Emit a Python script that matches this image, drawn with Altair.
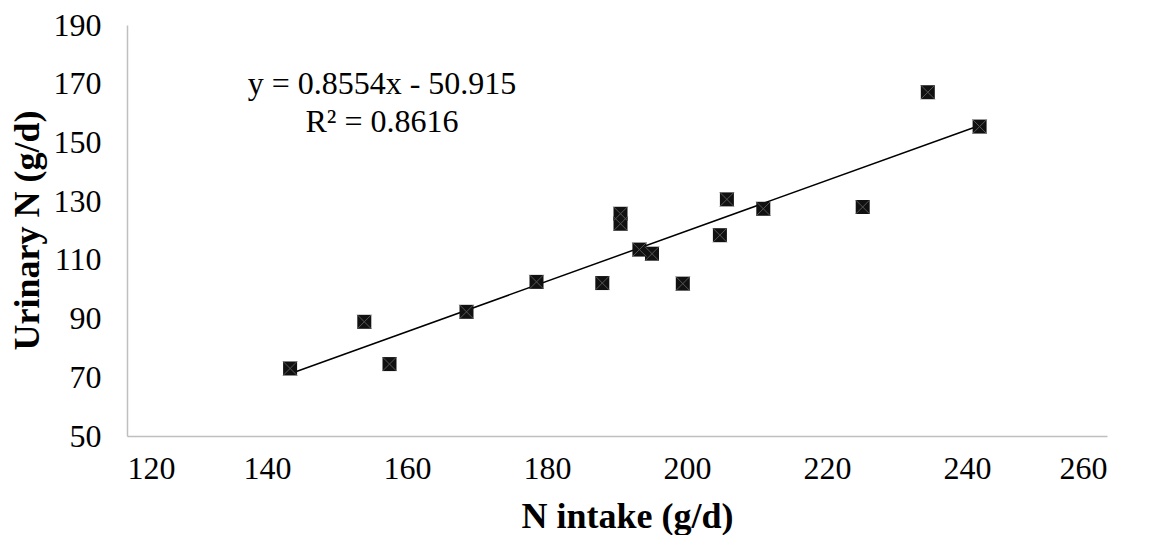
import altair as alt
import pandas as pd

# Data
n_intake = [143.3, 153.9, 157.5, 168.5, 178.5, 187.9, 190.5, 190.5, 193.2,
            195.0, 199.4, 204.7, 205.7, 210.9, 225.1, 234.4, 241.8]
urinary_n = [73.0, 88.9, 74.5, 92.3, 102.5, 102.1, 125.7, 122.3, 113.5,
             112.1, 101.9, 118.4, 130.6, 127.4, 128.0, 167.1, 155.4]
x_ticks = [120, 140, 160, 180, 200, 220, 240, 260]
y_ticks = [50, 70, 90, 110, 130, 150, 170, 190]
eq_lines = ["y = 0.8554x - 50.915", "R² = 0.8616"]

df = pd.DataFrame({"x": n_intake, "y": urinary_n})

FONT = "Liberation Serif"
xs = alt.Scale(domain=[x_ticks[0], x_ticks[-1]], nice=False, zero=False)
ys = alt.Scale(domain=[y_ticks[0], y_ticks[-1]], nice=False, zero=False)

x_axis = alt.Axis(values=x_ticks, title="N intake (g/d)", grid=False, ticks=False,
                  labelPadding=17, titleX=500, titleY=80, titleBaseline="middle")
y_axis = alt.Axis(values=y_ticks, title="Urinary N (g/d)", grid=False, ticks=False,
                  labelPadding=26, titleX=-100, titleY=205, titleBaseline="middle",
                  titleAngle=270)

base = alt.Chart(df)

trend = base.transform_regression("x", "y").mark_line(
    color="black", strokeWidth=1.5
).encode(
    x=alt.X("x:Q", scale=xs, axis=x_axis),
    y=alt.Y("y:Q", scale=ys, axis=y_axis),
)

points = base.mark_square(size=196, color="#111111", opacity=1).encode(
    x=alt.X("x:Q", scale=xs),
    y=alt.Y("y:Q", scale=ys),
)

crosses = base.mark_point(
    shape="M-1,-1L1,1M-1,1L1,-1", size=196, filled=False,
    stroke="#555555", strokeWidth=1, opacity=1
).encode(
    x=alt.X("x:Q", scale=xs),
    y=alt.Y("y:Q", scale=ys),
)

eq1 = alt.Chart(pd.DataFrame({"t": [eq_lines[0]]})).mark_text(
    font=FONT, fontSize=32, color="black", align="center", baseline="middle"
).encode(text="t:N", x=alt.value(255), y=alt.value(59))

eq2 = alt.Chart(pd.DataFrame({"t": [eq_lines[1]]})).mark_text(
    font=FONT, fontSize=32, color="black", align="center", baseline="middle"
).encode(text="t:N", x=alt.value(255), y=alt.value(97))

chart = alt.layer(trend, points, crosses, eq1, eq2).properties(
    width=980, height=411,
    padding={"left": 119, "top": 17, "right": 20, "bottom": 99},
    autosize="none",
).configure_view(stroke=None).configure_axis(
    domainColor="#BFBFBF", domainWidth=1.5,
    labelFont=FONT, labelFontSize=32, labelColor="black",
    titleFont=FONT, titleFontSize=36, titleFontWeight="bold", titleColor="black",
)

chart.save("out.html", embed_options={"renderer": "svg", "actions": False})
